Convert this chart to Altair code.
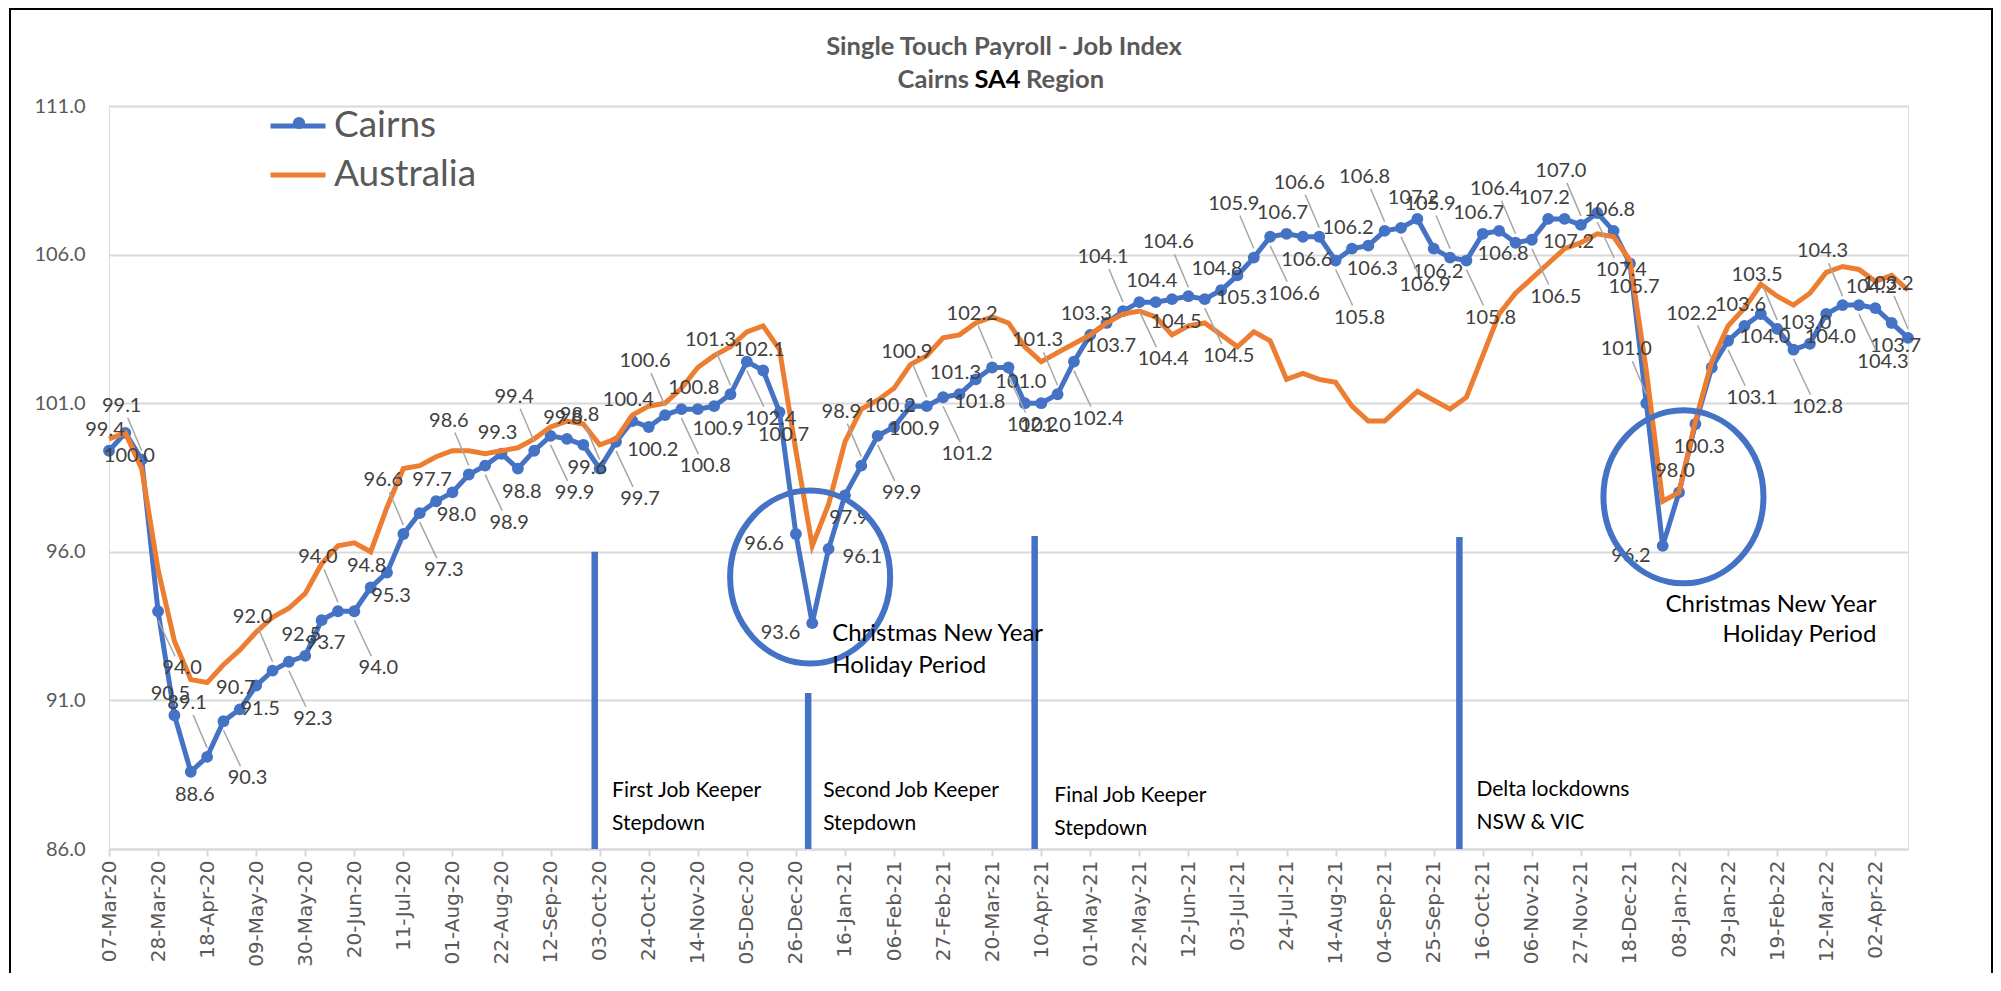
import altair as alt
import pandas as pd

# ---------------- data ----------------
start_date = "2020-03-07"          # first weekly observation
n_weeks = 111

cairns = [99.4, 100.0, 99.1, 94.0, 90.5, 88.6, 89.1, 90.3, 90.7, 91.5,
          92.0, 92.3, 92.5, 93.7, 94.0, 94.0, 94.8, 95.3, 96.6, 97.3,
          97.7, 98.0, 98.6, 98.9, 99.3, 98.8, 99.4, 99.9, 99.8, 99.6,
          98.8, 99.7, 100.4, 100.2, 100.6, 100.8, 100.8, 100.9, 101.3, 102.4,
          102.1, 100.7, 96.6, 93.6, 96.1, 97.9, 98.9, 99.9, 100.2, 100.9,
          100.9, 101.2, 101.3, 101.8, 102.2, 102.2, 101.0, 101.0, 101.3, 102.4,
          103.3, 103.7, 104.1, 104.4, 104.4, 104.5, 104.6, 104.5, 104.8, 105.3,
          105.9, 106.6, 106.7, 106.6, 106.6, 105.8, 106.2, 106.3, 106.8, 106.9,
          107.2, 106.2, 105.9, 105.8, 106.7, 106.8, 106.4, 106.5, 107.2, 107.2,
          107.0, 107.4, 106.8, 105.7, 101.0, 96.2, 98.0, 100.3, 102.2, 103.1,
          103.6, 104.0, 103.5, 102.8, 103.0, 104.0, 104.3, 104.3, 104.2, 103.7,
          103.2]

australia = [99.8, 100.0, 98.8, 95.4, 93.0, 91.7, 91.6, 92.2, 92.7, 93.3,
             93.8, 94.1, 94.6, 95.6, 96.2, 96.3, 96.0, 97.5, 98.8, 98.9,
             99.2, 99.4, 99.4, 99.3, 99.4, 99.5, 99.8, 100.2, 100.4, 100.3,
             99.6, 99.8, 100.6, 100.9, 101.0, 101.5, 102.2, 102.6, 102.9, 103.4,
             103.6, 102.8, 99.4, 96.2, 97.6, 99.7, 100.8, 101.1, 101.5, 102.3,
             102.6, 103.2, 103.3, 103.7, 103.9, 103.7, 102.9, 102.4, 102.7, 103.0,
             103.3, 103.7, 104.0, 104.1, 103.9, 103.3, 103.6, 103.7, 103.3, 102.9,
             103.4, 103.1, 101.8, 102.0, 101.8, 101.7, 100.9, 100.4, 100.4, 100.9,
             101.4, 101.1, 100.8, 101.2, 102.6, 104.0, 104.7, 105.2, 105.7, 106.2,
             106.4, 106.7, 106.6, 105.8, 102.1, 97.7, 98.0, 100.4, 102.4, 103.6,
             104.2, 105.0, 104.6, 104.3, 104.7, 105.4, 105.6, 105.5, 105.1, 105.3,
             104.8]

series_names = ["Cairns", "Australia"]
series_colors = ["#4472C4", "#ED7D31"]
y_ticks = [86, 91, 96, 101, 106, 111]

title_line1 = "Single Touch Payroll - Job Index"
title_line2 = ["Cairns", "SA4", "Region"]

# annotation lines: (week position, top value)
event_weeks = [29.7, 42.75, 56.6, 82.57]
event_tops = [96.0, 91.25, 96.53, 96.5]

# holiday circles: (week position, centre value)
circle_weeks = [42.87, 96.27]
circle_vals = [95.15, 97.85]

# annotation texts
ann_text = ["First Job Keeper", "Stepdown", "Second Job Keeper", "Stepdown",
            "Final Job Keeper", "Stepdown", "Delta lockdowns", "NSW & VIC",
            "Christmas New Year", "Holiday Period", "Christmas New Year", "Holiday Period"]
ann_week = [30.76, 30.76, 43.67, 43.67, 57.8, 57.8, 83.61, 83.61,
            44.22, 44.22, 108.07, 108.07]
ann_val = [87.95, 86.84, 87.95, 86.84, 87.78, 86.67, 87.98, 86.87,
           93.23, 92.16, 94.21, 93.2]
ann_group = ["job"] * 8 + ["xl", "xl", "xr", "xr"]

# ---------------- helpers ----------------
DAY_MS = 86400000
start_ms = int(pd.Timestamp(start_date).value // 10**6)


def week_ms(w):
    return start_ms + w * 7 * DAY_MS


dates = [week_ms(i) for i in range(n_weeks)]

long_df = pd.DataFrame({
    "t": dates * 2,
    "value": cairns + australia,
    "series": ["Cairns"] * n_weeks + ["Australia"] * n_weeks,
})
cairns_df = pd.DataFrame({"t": dates, "value": cairns, "idx": list(range(n_weeks)),
                          "label": [f"{v:.1f}" for v in cairns]})
events_df = pd.DataFrame({"t": [week_ms(w) for w in event_weeks], "y0": [86] * 4, "y1": event_tops})
circles_df = pd.DataFrame({"t": [week_ms(w) for w in circle_weeks], "v": circle_vals})
ann_df = pd.DataFrame({"t": [week_ms(w) for w in ann_week], "v": ann_val,
                       "text": ann_text, "g": ann_group})
one_row = pd.DataFrame({"a": [0]})

GRID = "#d9d9d9"
AXIS_TXT = "#595959"

x_enc = alt.X("t:T",
              scale=alt.Scale(type="utc", domain=[dates[0], dates[-1]], nice=False, padding=0),
              axis=alt.Axis(values=dates[::3],
                            labelExpr="utcFormat(datum.value, '%d-%b-%y')",
                            labelAngle=270, labelAlign="right", labelBaseline="middle",
                            labelFont="DejaVu Sans", labelFontSize=20, labelColor=AXIS_TXT,
                            labelPadding=4, labelOverlap=False, labelBound=False, labelFlush=False,
                            tickColor=GRID, tickSize=7, tickWidth=2,
                            domainColor=GRID, domainWidth=2, grid=False),
              title=None)
y_scale = alt.Scale(domain=[86, 111], nice=False, zero=False)
y_enc = alt.Y("value:Q", scale=y_scale,
              axis=alt.Axis(values=y_ticks, format=".1f", grid=True, gridColor=GRID, gridWidth=2,
                            ticks=False, domain=False, labelFont="Lato", labelFontSize=20,
                            labelColor=AXIS_TXT, labelPadding=24, labelOverlap=False),
              title=None)

color_scale = alt.Scale(domain=series_names, range=series_colors)
legend = alt.Legend(orient="none", legendX=159, legendY=-10, title=None, symbolType="stroke",
                    symbolSize=3025, symbolStrokeWidth=5, labelFont="Lato", labelFontSize=37,
                    labelColor=AXIS_TXT, rowPadding=1, labelOffset=6, padding=0,
                    direction="vertical")

blue_line = alt.Chart(long_df).transform_filter("datum.series == 'Cairns'").mark_line(
    strokeWidth=5).encode(x=x_enc, y=y_enc,
                          color=alt.Color("series:N", scale=color_scale, legend=legend))
blue_pts = alt.Chart(cairns_df).mark_point(filled=True, size=140, opacity=1,
                                           color="#4472C4").encode(x="t:T", y="value:Q")
orange_line = alt.Chart(long_df).transform_filter("datum.series == 'Australia'").mark_line(
    strokeWidth=5).encode(x="t:T", y="value:Q",
                          color=alt.Color("series:N", scale=color_scale, legend=legend))

layers = [blue_line, blue_pts, orange_line]

# legend marker for the Cairns entry (line + marker, as in the original legend)
layers.append(alt.Chart(one_row).mark_point(filled=True, size=150, opacity=1, color="#4472C4").encode(
    x=alt.value(190), y=alt.value(17)))

# data labels with leader lines (staggered around the points; dips labelled to the side)
label_pos = {0: (-4, -21, "center"), 1: (4, 23, "center"), 2: (-20, -54, "center"),
             3: (24, 57, "center"), 4: (-12, 10, "right"), 5: (14, 8, "left")}
leaders = {2: (0, -9, -14, -42), 3: (0, 9, 17, 45)}
grp_expr = ("(datum.value < 97 && datum.idx > 40) ? (datum.idx == 44 ? 5 : 4) : datum.idx % 4")
for g in range(6):
    sub = alt.Chart(cairns_df).transform_calculate(grp=grp_expr).transform_filter(f"datum.grp == {g}")
    if g in leaders:
        xa, ya, xb, yb = leaders[g]
        layers.append(sub.mark_rule(color="#a6a6a6", strokeWidth=1.5,
                                    xOffset=xa, yOffset=ya, x2Offset=xb, y2Offset=yb).encode(
            x="t:T", y="value:Q", x2="t:T", y2="value:Q"))
    dx, dy, al = label_pos[g]
    layers.append(sub.mark_text(dx=dx, dy=dy, align=al, font="Lato", fontSize=20,
                                color="#404040").encode(x="t:T", y="value:Q", text="label:N"))

# event lines
layers.append(alt.Chart(events_df).mark_rule(color="#4472C4", strokeWidth=6.5).encode(
    x="t:T", y="y0:Q", y2="y1:Q"))

# circles (ellipses)
ellipse = "M -0.925 0 A 0.925 1 0 1 0 0.925 0 A 0.925 1 0 1 0 -0.925 0 Z"
layers.append(alt.Chart(circles_df).mark_point(shape=ellipse, size=29929, filled=False,
                                               stroke="#4472C4", strokeWidth=6, opacity=1).encode(
    x="t:T", y="v:Q"))

# annotation texts
layers.append(alt.Chart(ann_df).transform_filter("datum.g == 'job'").mark_text(
    align="left", baseline="middle", font="Lato", fontSize=21, color="black").encode(
    x="t:T", y="v:Q", text="text:N"))
layers.append(alt.Chart(ann_df).transform_filter("datum.g == 'xl'").mark_text(
    align="left", baseline="middle", font="Lato", fontSize=24, color="black").encode(
    x="t:T", y="v:Q", text="text:N"))
layers.append(alt.Chart(ann_df).transform_filter("datum.g == 'xr'").mark_text(
    align="right", baseline="middle", font="Lato", fontSize=24, color="black").encode(
    x="t:T", y="v:Q", text="text:N"))

# title (drawn as text so that "SA4" can be black)
tstyle = dict(font="Lato", fontSize=25.5, fontWeight="bold", baseline="middle")
layers.append(alt.Chart(one_row).mark_text(align="center", color=AXIS_TXT, **tstyle).encode(
    x=alt.value(895), y=alt.value(-59), text=alt.value(title_line1)))
layers.append(alt.Chart(one_row).mark_text(align="right", color=AXIS_TXT, **tstyle).encode(
    x=alt.value(860), y=alt.value(-26), text=alt.value(title_line2[0])))
layers.append(alt.Chart(one_row).mark_text(align="center", color="black", **tstyle).encode(
    x=alt.value(888.5), y=alt.value(-26), text=alt.value(title_line2[1])))
layers.append(alt.Chart(one_row).mark_text(align="left", color=AXIS_TXT, **tstyle).encode(
    x=alt.value(917), y=alt.value(-26), text=alt.value(title_line2[2])))

# chart frame
layers.append(alt.Chart(one_row).mark_rect(
    fillOpacity=0, stroke="black", strokeWidth=2).encode(
    x=alt.value(-99), x2=alt.value(1883), y=alt.value(-97), y2=alt.value(900)))

chart = alt.layer(*layers).properties(
    width=1799, height=743,
    padding={"left": 101, "top": 98, "right": 85, "bottom": 124},
    autosize=alt.AutoSizeParams(type="none"),
).configure_view(strokeWidth=0).configure(background="white")

chart.save("out.html", embed_options={"renderer": "svg", "actions": False})
